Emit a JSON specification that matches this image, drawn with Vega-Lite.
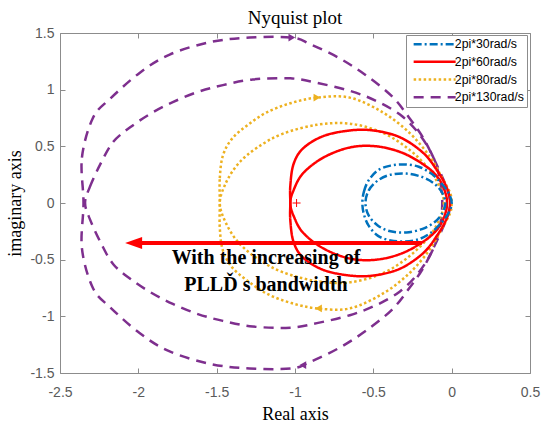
{
  "$schema": "https://vega.github.io/schema/vega-lite/v6.json",
  "width": 470,
  "height": 340,
  "autosize": "none",
  "padding": {"left": 60, "top": 33, "right": 17, "bottom": 49},
  "background": "white",
  "title": {"text": "Nyquist plot", "font": "Liberation Serif", "fontSize": 19, "fontWeight": "normal", "color": "black", "anchor": "middle", "baseline": "bottom", "offset": -21},
  "config": {
    "view": {"stroke": "#8c8c8c", "strokeWidth": 1},
    "axis": {
      "labelFont": "Liberation Sans", "labelFontSize": 14, "labelColor": "#5a5a5a",
      "tickColor": "#8c8c8c", "tickSize": -5, "domain": false, "grid": false,
      "labelFlush": false, "labelOverlap": false, "labelBound": false,
      "titleFont": "Liberation Serif", "titleFontSize": 18, "titleFontWeight": "normal", "titleColor": "black"
    }
  },
  "datasets": {
    "curves": [
      {"s":"2pi*130rad/s","p":"o","k":0,"x":-2.35,"y":0},
      {"s":"2pi*130rad/s","p":"o","k":1,"x":-2.36,"y":0.40},
      {"s":"2pi*130rad/s","p":"o","k":2,"x":-2.29,"y":0.75},
      {"s":"2pi*130rad/s","p":"o","k":3,"x":-2.18,"y":0.92},
      {"s":"2pi*130rad/s","p":"o","k":4,"x":-1.99,"y":1.15},
      {"s":"2pi*130rad/s","p":"o","k":5,"x":-1.80,"y":1.31},
      {"s":"2pi*130rad/s","p":"o","k":6,"x":-1.54,"y":1.42},
      {"s":"2pi*130rad/s","p":"o","k":7,"x":-1.29,"y":1.46},
      {"s":"2pi*130rad/s","p":"o","k":8,"x":-1.02,"y":1.46},
      {"s":"2pi*130rad/s","p":"o","k":9,"x":-0.90,"y":1.40},
      {"s":"2pi*130rad/s","p":"o","k":10,"x":-0.72,"y":1.28},
      {"s":"2pi*130rad/s","p":"o","k":11,"x":-0.55,"y":1.13},
      {"s":"2pi*130rad/s","p":"o","k":12,"x":-0.38,"y":0.94},
      {"s":"2pi*130rad/s","p":"o","k":13,"x":-0.27,"y":0.75},
      {"s":"2pi*130rad/s","p":"o","k":14,"x":-0.18,"y":0.57},
      {"s":"2pi*130rad/s","p":"o","k":15,"x":-0.10,"y":0.35},
      {"s":"2pi*130rad/s","p":"o","k":16,"x":-0.03,"y":0.13},
      {"s":"2pi*130rad/s","p":"o","k":17,"x":-0.01,"y":0},
      {"s":"2pi*130rad/s","p":"o","k":18,"x":-0.03,"y":-0.13},
      {"s":"2pi*130rad/s","p":"o","k":19,"x":-0.10,"y":-0.35},
      {"s":"2pi*130rad/s","p":"o","k":20,"x":-0.18,"y":-0.57},
      {"s":"2pi*130rad/s","p":"o","k":21,"x":-0.27,"y":-0.75},
      {"s":"2pi*130rad/s","p":"o","k":22,"x":-0.38,"y":-0.94},
      {"s":"2pi*130rad/s","p":"o","k":23,"x":-0.55,"y":-1.13},
      {"s":"2pi*130rad/s","p":"o","k":24,"x":-0.72,"y":-1.28},
      {"s":"2pi*130rad/s","p":"o","k":25,"x":-0.90,"y":-1.40},
      {"s":"2pi*130rad/s","p":"o","k":26,"x":-1.02,"y":-1.46},
      {"s":"2pi*130rad/s","p":"o","k":27,"x":-1.29,"y":-1.46},
      {"s":"2pi*130rad/s","p":"o","k":28,"x":-1.54,"y":-1.42},
      {"s":"2pi*130rad/s","p":"o","k":29,"x":-1.80,"y":-1.31},
      {"s":"2pi*130rad/s","p":"o","k":30,"x":-1.99,"y":-1.15},
      {"s":"2pi*130rad/s","p":"o","k":31,"x":-2.18,"y":-0.92},
      {"s":"2pi*130rad/s","p":"o","k":32,"x":-2.29,"y":-0.75},
      {"s":"2pi*130rad/s","p":"o","k":33,"x":-2.36,"y":-0.40},

      {"s":"2pi*130rad/s","p":"i","k":0,"x":-2.34,"y":0},
      {"s":"2pi*130rad/s","p":"i","k":1,"x":-2.31,"y":0.14},
      {"s":"2pi*130rad/s","p":"i","k":2,"x":-2.24,"y":0.35},
      {"s":"2pi*130rad/s","p":"i","k":3,"x":-2.16,"y":0.54},
      {"s":"2pi*130rad/s","p":"i","k":4,"x":-2.05,"y":0.67},
      {"s":"2pi*130rad/s","p":"i","k":5,"x":-1.92,"y":0.79},
      {"s":"2pi*130rad/s","p":"i","k":6,"x":-1.78,"y":0.89},
      {"s":"2pi*130rad/s","p":"i","k":7,"x":-1.62,"y":0.98},
      {"s":"2pi*130rad/s","p":"i","k":8,"x":-1.46,"y":1.04},
      {"s":"2pi*130rad/s","p":"i","k":9,"x":-1.27,"y":1.09},
      {"s":"2pi*130rad/s","p":"i","k":10,"x":-1.03,"y":1.10},
      {"s":"2pi*130rad/s","p":"i","k":11,"x":-0.86,"y":1.06},
      {"s":"2pi*130rad/s","p":"i","k":12,"x":-0.65,"y":0.99},
      {"s":"2pi*130rad/s","p":"i","k":13,"x":-0.48,"y":0.90},
      {"s":"2pi*130rad/s","p":"i","k":14,"x":-0.33,"y":0.78},
      {"s":"2pi*130rad/s","p":"i","k":15,"x":-0.22,"y":0.63},
      {"s":"2pi*130rad/s","p":"i","k":16,"x":-0.13,"y":0.44},
      {"s":"2pi*130rad/s","p":"i","k":17,"x":-0.08,"y":0.24},
      {"s":"2pi*130rad/s","p":"i","k":18,"x":-0.06,"y":0},
      {"s":"2pi*130rad/s","p":"i","k":19,"x":-0.08,"y":-0.24},
      {"s":"2pi*130rad/s","p":"i","k":20,"x":-0.13,"y":-0.44},
      {"s":"2pi*130rad/s","p":"i","k":21,"x":-0.22,"y":-0.63},
      {"s":"2pi*130rad/s","p":"i","k":22,"x":-0.33,"y":-0.78},
      {"s":"2pi*130rad/s","p":"i","k":23,"x":-0.48,"y":-0.90},
      {"s":"2pi*130rad/s","p":"i","k":24,"x":-0.65,"y":-0.99},
      {"s":"2pi*130rad/s","p":"i","k":25,"x":-0.86,"y":-1.06},
      {"s":"2pi*130rad/s","p":"i","k":26,"x":-1.03,"y":-1.10},
      {"s":"2pi*130rad/s","p":"i","k":27,"x":-1.27,"y":-1.09},
      {"s":"2pi*130rad/s","p":"i","k":28,"x":-1.46,"y":-1.04},
      {"s":"2pi*130rad/s","p":"i","k":29,"x":-1.62,"y":-0.98},
      {"s":"2pi*130rad/s","p":"i","k":30,"x":-1.78,"y":-0.89},
      {"s":"2pi*130rad/s","p":"i","k":31,"x":-1.92,"y":-0.79},
      {"s":"2pi*130rad/s","p":"i","k":32,"x":-2.05,"y":-0.67},
      {"s":"2pi*130rad/s","p":"i","k":33,"x":-2.16,"y":-0.54},
      {"s":"2pi*130rad/s","p":"i","k":34,"x":-2.24,"y":-0.35},
      {"s":"2pi*130rad/s","p":"i","k":35,"x":-2.31,"y":-0.14},

      {"s":"2pi*80rad/s","p":"o","k":0,"x":-1.48,"y":0},
      {"s":"2pi*80rad/s","p":"o","k":1,"x":-1.48,"y":0.22},
      {"s":"2pi*80rad/s","p":"o","k":2,"x":-1.46,"y":0.42},
      {"s":"2pi*80rad/s","p":"o","k":3,"x":-1.40,"y":0.57},
      {"s":"2pi*80rad/s","p":"o","k":4,"x":-1.30,"y":0.69},
      {"s":"2pi*80rad/s","p":"o","k":5,"x":-1.18,"y":0.80},
      {"s":"2pi*80rad/s","p":"o","k":6,"x":-1.03,"y":0.88},
      {"s":"2pi*80rad/s","p":"o","k":7,"x":-0.86,"y":0.93},
      {"s":"2pi*80rad/s","p":"o","k":8,"x":-0.65,"y":0.93},
      {"s":"2pi*80rad/s","p":"o","k":9,"x":-0.44,"y":0.80},
      {"s":"2pi*80rad/s","p":"o","k":10,"x":-0.27,"y":0.62},
      {"s":"2pi*80rad/s","p":"o","k":11,"x":-0.14,"y":0.41},
      {"s":"2pi*80rad/s","p":"o","k":12,"x":-0.06,"y":0.22},
      {"s":"2pi*80rad/s","p":"o","k":13,"x":-0.01,"y":0.09},
      {"s":"2pi*80rad/s","p":"o","k":14,"x":0,"y":0},
      {"s":"2pi*80rad/s","p":"o","k":15,"x":-0.01,"y":-0.09},
      {"s":"2pi*80rad/s","p":"o","k":16,"x":-0.06,"y":-0.22},
      {"s":"2pi*80rad/s","p":"o","k":17,"x":-0.14,"y":-0.41},
      {"s":"2pi*80rad/s","p":"o","k":18,"x":-0.27,"y":-0.62},
      {"s":"2pi*80rad/s","p":"o","k":19,"x":-0.44,"y":-0.80},
      {"s":"2pi*80rad/s","p":"o","k":20,"x":-0.65,"y":-0.93},
      {"s":"2pi*80rad/s","p":"o","k":21,"x":-0.86,"y":-0.93},
      {"s":"2pi*80rad/s","p":"o","k":22,"x":-1.03,"y":-0.88},
      {"s":"2pi*80rad/s","p":"o","k":23,"x":-1.18,"y":-0.80},
      {"s":"2pi*80rad/s","p":"o","k":24,"x":-1.30,"y":-0.69},
      {"s":"2pi*80rad/s","p":"o","k":25,"x":-1.40,"y":-0.57},
      {"s":"2pi*80rad/s","p":"o","k":26,"x":-1.46,"y":-0.42},
      {"s":"2pi*80rad/s","p":"o","k":27,"x":-1.48,"y":-0.22},

      {"s":"2pi*80rad/s","p":"i","k":0,"x":-1.48,"y":0},
      {"s":"2pi*80rad/s","p":"i","k":1,"x":-1.44,"y":0.18},
      {"s":"2pi*80rad/s","p":"i","k":2,"x":-1.36,"y":0.35},
      {"s":"2pi*80rad/s","p":"i","k":3,"x":-1.24,"y":0.49},
      {"s":"2pi*80rad/s","p":"i","k":4,"x":-1.08,"y":0.61},
      {"s":"2pi*80rad/s","p":"i","k":5,"x":-0.86,"y":0.69},
      {"s":"2pi*80rad/s","p":"i","k":6,"x":-0.65,"y":0.70},
      {"s":"2pi*80rad/s","p":"i","k":7,"x":-0.44,"y":0.62},
      {"s":"2pi*80rad/s","p":"i","k":8,"x":-0.27,"y":0.47},
      {"s":"2pi*80rad/s","p":"i","k":9,"x":-0.14,"y":0.29},
      {"s":"2pi*80rad/s","p":"i","k":10,"x":-0.07,"y":0.12},
      {"s":"2pi*80rad/s","p":"i","k":11,"x":-0.05,"y":0},
      {"s":"2pi*80rad/s","p":"i","k":12,"x":-0.07,"y":-0.12},
      {"s":"2pi*80rad/s","p":"i","k":13,"x":-0.14,"y":-0.29},
      {"s":"2pi*80rad/s","p":"i","k":14,"x":-0.27,"y":-0.47},
      {"s":"2pi*80rad/s","p":"i","k":15,"x":-0.44,"y":-0.62},
      {"s":"2pi*80rad/s","p":"i","k":16,"x":-0.65,"y":-0.70},
      {"s":"2pi*80rad/s","p":"i","k":17,"x":-0.86,"y":-0.69},
      {"s":"2pi*80rad/s","p":"i","k":18,"x":-1.08,"y":-0.61},
      {"s":"2pi*80rad/s","p":"i","k":19,"x":-1.24,"y":-0.49},
      {"s":"2pi*80rad/s","p":"i","k":20,"x":-1.36,"y":-0.35},
      {"s":"2pi*80rad/s","p":"i","k":21,"x":-1.44,"y":-0.18},

      {"s":"2pi*60rad/s","p":"o","k":0,"x":-1.03,"y":0},
      {"s":"2pi*60rad/s","p":"o","k":1,"x":-1.03,"y":0.15},
      {"s":"2pi*60rad/s","p":"o","k":2,"x":-1.01,"y":0.34},
      {"s":"2pi*60rad/s","p":"o","k":3,"x":-0.95,"y":0.48},
      {"s":"2pi*60rad/s","p":"o","k":4,"x":-0.82,"y":0.59},
      {"s":"2pi*60rad/s","p":"o","k":5,"x":-0.65,"y":0.64},
      {"s":"2pi*60rad/s","p":"o","k":6,"x":-0.50,"y":0.64},
      {"s":"2pi*60rad/s","p":"o","k":7,"x":-0.33,"y":0.58},
      {"s":"2pi*60rad/s","p":"o","k":8,"x":-0.18,"y":0.44},
      {"s":"2pi*60rad/s","p":"o","k":9,"x":-0.09,"y":0.28},
      {"s":"2pi*60rad/s","p":"o","k":10,"x":-0.03,"y":0.13},
      {"s":"2pi*60rad/s","p":"o","k":11,"x":-0.01,"y":0},
      {"s":"2pi*60rad/s","p":"o","k":12,"x":-0.03,"y":-0.13},
      {"s":"2pi*60rad/s","p":"o","k":13,"x":-0.09,"y":-0.28},
      {"s":"2pi*60rad/s","p":"o","k":14,"x":-0.18,"y":-0.44},
      {"s":"2pi*60rad/s","p":"o","k":15,"x":-0.33,"y":-0.58},
      {"s":"2pi*60rad/s","p":"o","k":16,"x":-0.50,"y":-0.64},
      {"s":"2pi*60rad/s","p":"o","k":17,"x":-0.65,"y":-0.64},
      {"s":"2pi*60rad/s","p":"o","k":18,"x":-0.82,"y":-0.59},
      {"s":"2pi*60rad/s","p":"o","k":19,"x":-0.95,"y":-0.48},
      {"s":"2pi*60rad/s","p":"o","k":20,"x":-1.01,"y":-0.34},
      {"s":"2pi*60rad/s","p":"o","k":21,"x":-1.03,"y":-0.15},

      {"s":"2pi*60rad/s","p":"i","k":0,"x":-1.03,"y":0},
      {"s":"2pi*60rad/s","p":"i","k":1,"x":-1.01,"y":0.11},
      {"s":"2pi*60rad/s","p":"i","k":2,"x":-0.95,"y":0.26},
      {"s":"2pi*60rad/s","p":"i","k":3,"x":-0.82,"y":0.40},
      {"s":"2pi*60rad/s","p":"i","k":4,"x":-0.65,"y":0.49},
      {"s":"2pi*60rad/s","p":"i","k":5,"x":-0.48,"y":0.50},
      {"s":"2pi*60rad/s","p":"i","k":6,"x":-0.31,"y":0.44},
      {"s":"2pi*60rad/s","p":"i","k":7,"x":-0.16,"y":0.32},
      {"s":"2pi*60rad/s","p":"i","k":8,"x":-0.08,"y":0.21},
      {"s":"2pi*60rad/s","p":"i","k":9,"x":-0.04,"y":0.09},
      {"s":"2pi*60rad/s","p":"i","k":10,"x":-0.03,"y":0},
      {"s":"2pi*60rad/s","p":"i","k":11,"x":-0.04,"y":-0.09},
      {"s":"2pi*60rad/s","p":"i","k":12,"x":-0.08,"y":-0.21},
      {"s":"2pi*60rad/s","p":"i","k":13,"x":-0.16,"y":-0.32},
      {"s":"2pi*60rad/s","p":"i","k":14,"x":-0.31,"y":-0.44},
      {"s":"2pi*60rad/s","p":"i","k":15,"x":-0.48,"y":-0.50},
      {"s":"2pi*60rad/s","p":"i","k":16,"x":-0.65,"y":-0.49},
      {"s":"2pi*60rad/s","p":"i","k":17,"x":-0.82,"y":-0.40},
      {"s":"2pi*60rad/s","p":"i","k":18,"x":-0.95,"y":-0.26},
      {"s":"2pi*60rad/s","p":"i","k":19,"x":-1.01,"y":-0.11},

      {"s":"2pi*30rad/s","p":"o","k":0,"x":-0.57,"y":0},
      {"s":"2pi*30rad/s","p":"o","k":1,"x":-0.56,"y":0.10},
      {"s":"2pi*30rad/s","p":"o","k":2,"x":-0.53,"y":0.20},
      {"s":"2pi*30rad/s","p":"o","k":3,"x":-0.47,"y":0.29},
      {"s":"2pi*30rad/s","p":"o","k":4,"x":-0.39,"y":0.33},
      {"s":"2pi*30rad/s","p":"o","k":5,"x":-0.30,"y":0.34},
      {"s":"2pi*30rad/s","p":"o","k":6,"x":-0.21,"y":0.32},
      {"s":"2pi*30rad/s","p":"o","k":7,"x":-0.13,"y":0.26},
      {"s":"2pi*30rad/s","p":"o","k":8,"x":-0.07,"y":0.18},
      {"s":"2pi*30rad/s","p":"o","k":9,"x":-0.02,"y":0.09},
      {"s":"2pi*30rad/s","p":"o","k":10,"x":0,"y":0},
      {"s":"2pi*30rad/s","p":"o","k":11,"x":-0.02,"y":-0.09},
      {"s":"2pi*30rad/s","p":"o","k":12,"x":-0.07,"y":-0.18},
      {"s":"2pi*30rad/s","p":"o","k":13,"x":-0.13,"y":-0.26},
      {"s":"2pi*30rad/s","p":"o","k":14,"x":-0.21,"y":-0.32},
      {"s":"2pi*30rad/s","p":"o","k":15,"x":-0.30,"y":-0.34},
      {"s":"2pi*30rad/s","p":"o","k":16,"x":-0.39,"y":-0.33},
      {"s":"2pi*30rad/s","p":"o","k":17,"x":-0.47,"y":-0.29},
      {"s":"2pi*30rad/s","p":"o","k":18,"x":-0.53,"y":-0.20},
      {"s":"2pi*30rad/s","p":"o","k":19,"x":-0.56,"y":-0.10},

      {"s":"2pi*30rad/s","p":"i","k":0,"x":-0.55,"y":0},
      {"s":"2pi*30rad/s","p":"i","k":1,"x":-0.53,"y":0.11},
      {"s":"2pi*30rad/s","p":"i","k":2,"x":-0.47,"y":0.20},
      {"s":"2pi*30rad/s","p":"i","k":3,"x":-0.39,"y":0.25},
      {"s":"2pi*30rad/s","p":"i","k":4,"x":-0.29,"y":0.26},
      {"s":"2pi*30rad/s","p":"i","k":5,"x":-0.19,"y":0.23},
      {"s":"2pi*30rad/s","p":"i","k":6,"x":-0.11,"y":0.17},
      {"s":"2pi*30rad/s","p":"i","k":7,"x":-0.06,"y":0.09},
      {"s":"2pi*30rad/s","p":"i","k":8,"x":-0.04,"y":0},
      {"s":"2pi*30rad/s","p":"i","k":9,"x":-0.06,"y":-0.09},
      {"s":"2pi*30rad/s","p":"i","k":10,"x":-0.11,"y":-0.17},
      {"s":"2pi*30rad/s","p":"i","k":11,"x":-0.19,"y":-0.23},
      {"s":"2pi*30rad/s","p":"i","k":12,"x":-0.29,"y":-0.26},
      {"s":"2pi*30rad/s","p":"i","k":13,"x":-0.39,"y":-0.25},
      {"s":"2pi*30rad/s","p":"i","k":14,"x":-0.47,"y":-0.20},
      {"s":"2pi*30rad/s","p":"i","k":15,"x":-0.53,"y":-0.11}
    ],
    "heads": [
      {"s":"2pi*130rad/s","d":"r","x":-1.02,"y":1.46},
      {"s":"2pi*130rad/s","d":"l","x":-0.95,"y":-1.43},
      {"s":"2pi*80rad/s","d":"r","x":-0.86,"y":0.93},
      {"s":"2pi*80rad/s","d":"l","x":-0.85,"y":-0.93}
    ],
    "arrow": [{"x":-2.02,"x2":-0.19,"y":-0.353}],
    "arrowTip": [{"x":-2.03,"y":-0.353}],
    "critical": [{"x":-0.99,"y":0}],
    "note": [
      {"line":"With the increasing of","x":-1.185,"y":-0.485},
      {"line":"PLLĎ  s bandwidth","x":-1.185,"y":-0.724}
    ]
  },
  "layer": [
    {
      "mark": {"type": "rule", "color": "#c0c0c0", "strokeDash": [1, 2], "strokeWidth": 1},
      "encoding": {
        "x": {"datum": 0, "type": "quantitative",
              "scale": {"domain": [-2.5, 0.5], "nice": false, "zero": false},
              "axis": {"orient": "top", "values": [-2.5, -2, -1.5, -1, -0.5, 0, 0.5], "labels": false, "title": null}}
      }
    },
    {
      "mark": {"type": "rule", "color": "#c0c0c0", "strokeDash": [1, 2], "strokeWidth": 1},
      "encoding": {
        "y": {"datum": 0, "type": "quantitative",
              "scale": {"domain": [-1.5, 1.5], "nice": false, "zero": false},
              "axis": {"orient": "right", "values": [-1.5, -1, -0.5, 0, 0.5, 1, 1.5], "labels": false, "title": null}}
      }
    },
    {
      "data": {"name": "curves"},
      "mark": {"type": "line", "interpolate": "cardinal-closed", "strokeWidth": 2.5},
      "encoding": {
        "x": {"field": "x", "type": "quantitative",
              "scale": {"domain": [-2.5, 0.5], "nice": false, "zero": false},
              "axis": {"orient": "bottom", "values": [-2.5, -2, -1.5, -1, -0.5, 0, 0.5], "labelPadding": 17,
                       "labelExpr": "replace(format(datum.value, '~g'), '\u2212', '-')", "title": "Real axis", "titlePadding": 6}},
        "y": {"field": "y", "type": "quantitative",
              "scale": {"domain": [-1.5, 1.5], "nice": false, "zero": false},
              "axis": {"orient": "left", "values": [-1.5, -1, -0.5, 0, 0.5, 1, 1.5], "labelPadding": 11,
                       "labelExpr": "replace(format(datum.value, '~g'), '\u2212', '-')", "title": "imaginary axis", "titlePadding": 5}},
        "color": {"field": "s", "type": "nominal",
                  "scale": {"domain": ["2pi*30rad/s", "2pi*60rad/s", "2pi*80rad/s", "2pi*130rad/s"],
                            "range": ["#0072BD", "#FF0000", "#EDB120", "#7E2F8E"]},
                  "legend": {"orient": "none", "legendX": 346, "legendY": 2, "title": null,
                             "labelFont": "Liberation Sans", "labelFontSize": 12.3, "labelColor": "black",
                             "fillColor": "white", "strokeColor": "#8c8c8c", "padding": 3,
                             "symbolType": "M-14,0H14", "symbolSize": 9, "symbolOffset": 19.5,
                             "symbolStrokeWidth": 2.5, "labelOffset": 14, "rowPadding": 4.7}},
        "strokeDash": {"field": "s", "type": "nominal",
                       "scale": {"domain": ["2pi*30rad/s", "2pi*60rad/s", "2pi*80rad/s", "2pi*130rad/s"],
                                 "range": [[8, 3, 2, 3], [1, 0], [2.5, 2.5], [10, 7]]}},
        "detail": {"field": "p"},
        "order": {"field": "k", "type": "quantitative"}
      }
    },
    {
      "data": {"name": "heads"},
      "mark": {"type": "point", "filled": true, "size": 60, "opacity": 1},
      "encoding": {
        "x": {"field": "x", "type": "quantitative", "scale": {"domain": [-2.5, 0.5], "nice": false, "zero": false}, "axis": null},
        "y": {"field": "y", "type": "quantitative", "scale": {"domain": [-1.5, 1.5], "nice": false, "zero": false}, "axis": null},
        "fill": {"field": "s", "type": "nominal", "scale": {"domain": ["2pi*80rad/s", "2pi*130rad/s"], "range": ["#EDB120", "#7E2F8E"]}, "legend": null},
        "shape": {"field": "d", "type": "nominal", "scale": {"domain": ["r", "l"], "range": ["triangle-right", "triangle-left"]}, "legend": null}
      }
    },
    {
      "data": {"name": "arrow"},
      "mark": {"type": "rule", "color": "#FF0000", "strokeWidth": 4},
      "encoding": {
        "x": {"field": "x", "type": "quantitative", "scale": {"domain": [-2.5, 0.5], "nice": false, "zero": false}, "axis": null},
        "x2": {"field": "x2"},
        "y": {"field": "y", "type": "quantitative", "scale": {"domain": [-1.5, 1.5], "nice": false, "zero": false}, "axis": null}
      }
    },
    {
      "data": {"name": "arrowTip"},
      "mark": {"type": "point", "filled": true, "color": "#FF0000", "opacity": 1, "size": 289, "shape": "M-1,0L1,-0.7L1,0.7Z"},
      "encoding": {
        "x": {"field": "x", "type": "quantitative", "scale": {"domain": [-2.5, 0.5], "nice": false, "zero": false}, "axis": null},
        "y": {"field": "y", "type": "quantitative", "scale": {"domain": [-1.5, 1.5], "nice": false, "zero": false}, "axis": null}
      }
    },
    {
      "data": {"name": "critical"},
      "mark": {"type": "point", "filled": false, "color": "#FF0000", "opacity": 1, "size": 64, "strokeWidth": 1, "shape": "M-1,0L1,0M0,-1L0,1"},
      "encoding": {
        "x": {"field": "x", "type": "quantitative", "scale": {"domain": [-2.5, 0.5], "nice": false, "zero": false}, "axis": null},
        "y": {"field": "y", "type": "quantitative", "scale": {"domain": [-1.5, 1.5], "nice": false, "zero": false}, "axis": null}
      }
    },
    {
      "data": {"name": "note"},
      "mark": {"type": "text", "font": "Liberation Serif", "fontSize": 20, "fontWeight": "bold", "color": "black", "align": "center", "baseline": "middle"},
      "encoding": {
        "x": {"field": "x", "type": "quantitative", "scale": {"domain": [-2.5, 0.5], "nice": false, "zero": false}, "axis": null},
        "y": {"field": "y", "type": "quantitative", "scale": {"domain": [-1.5, 1.5], "nice": false, "zero": false}, "axis": null},
        "text": {"field": "line"}
      }
    }
  ],
  "resolve": {"axis": {"x": "independent", "y": "independent"}}
}
